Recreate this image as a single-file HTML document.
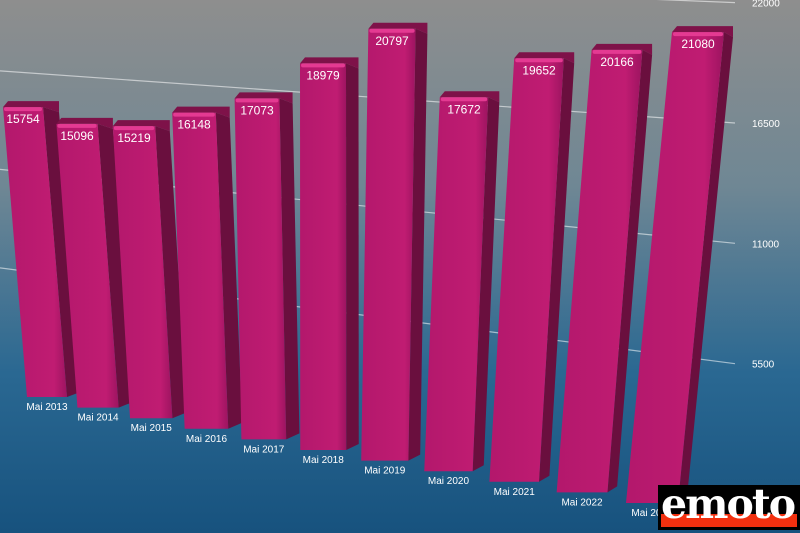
<!DOCTYPE html>
<html><head><meta charset="utf-8">
<style>
html,body{margin:0;padding:0;}
body{width:800px;height:533px;overflow:hidden;font-family:"Liberation Sans",sans-serif;}
#chart{position:absolute;left:0;top:0;}
#logo{position:absolute;left:658px;top:485px;width:142px;height:45px;background:#000;overflow:hidden;}
#logo .txt{position:absolute;left:3px;top:-5px;font-family:"DejaVu Serif",serif;font-weight:bold;font-size:41px;color:#fff;letter-spacing:-2px;}
#logo .red{position:absolute;left:3px;right:3px;bottom:3px;height:13px;background:#f2300f;}
</style></head>
<body>
<svg id="chart" width="800" height="533" xmlns="http://www.w3.org/2000/svg">
<defs>
<linearGradient id="bg" x1="0" y1="0" x2="0" y2="1">
<stop offset="0" stop-color="#8e8e8e"/>
<stop offset="0.35" stop-color="#6f8794"/>
<stop offset="0.7" stop-color="#2a6892"/>
<stop offset="1" stop-color="#17527e"/>
</linearGradient>
<linearGradient id="front" x1="0" y1="0" x2="1" y2="0">
<stop offset="0" stop-color="#b3186c"/>
<stop offset="0.8" stop-color="#c01c72"/>
<stop offset="1" stop-color="#9c1460"/>
</linearGradient>
</defs>
<rect width="800" height="533" fill="url(#bg)"/>
<g id="grid"></g>
<g id="bars"></g>
</svg>
<div id="logo"><div class="red"></div><div class="txt">emoto</div></div>
<script>
const categories=["Mai 2013","Mai 2014","Mai 2015","Mai 2016","Mai 2017","Mai 2018","Mai 2019","Mai 2020","Mai 2021","Mai 2022","Mai 2023"];
const values=[15754,15096,15219,16148,17073,18979,20797,17672,19652,20166,21080];
const ticks=[5500,11000,16500,22000];
const NS="http://www.w3.org/2000/svg";
function mk(t,a,p){const e=document.createElementNS(NS,t);for(const k in a)e.setAttribute(k,a[k]);p.appendChild(e);return e;}
function yAxis(v){return 484-v*0.02188;}
function gridSlope(v){return 0.16-0.0054*v/1000;}
const grid=document.getElementById('grid');
ticks.forEach(t=>{
  const yr=yAxis(t), xe=735;
  const l=mk('line',{x1:0,y1:yr-gridSlope(t)*xe,x2:xe,y2:yr,stroke:'rgba(255,255,255,0.55)','stroke-width':1.2},grid);
  
  
  const tx=mk('text',{x:752,y:yr+4,fill:'#fff','font-size':10},grid);
  tx.textContent=t;
  
  
});
const bars=document.getElementById('bars');
function bottomY(i){return 397+10.6*i;}
function scaleAt(i){return 0.0184+0.000394*i;}
function centerX(i){return 47+50*i+1.05*i*i;}
values.forEach((v,i)=>{
  const g=mk('g',{},bars);
  
  
  const yb=bottomY(i), yt=yb-v*scaleAt(i);
  const w=40+1.2*i, sd=16-0.7*i;
  const lean=-24+2.5*i+0.45*i*i;
  const bl=centerX(i)-w/2, tl=bl+lean;
  mk('polygon',{points:`${tl+w},${yt} ${tl+w+sd},${yt+5} ${bl+w+sd},${yb-6} ${bl+w},${yb}`,fill:'#6a0f3e'},g);
  mk('polygon',{points:`${tl},${yt} ${tl+w},${yt} ${bl+w},${yb} ${bl},${yb}`,fill:'url(#front)'},g);
  mk('polygon',{points:`${tl},${yt} ${tl+5},${yt-6} ${tl+w+sd},${yt-6} ${tl+w+sd},${yt+5} ${tl+w},${yt}`,fill:'#7e1249'},g);
  mk('rect',{x:tl+1,y:yt,width:w-2,height:4,fill:'#e43a92',rx:2},g);
  const vt=mk('text',{x:tl+w/2,y:yt+16,fill:'#fff','font-size':12,'text-anchor':'middle'},g);
  vt.textContent=v;
  
  
  const ct=mk('text',{x:bl+w/2,y:yb+13,fill:'#fff','font-size':10,'text-anchor':'middle'},g);
  ct.textContent=categories[i];
  
  
});
</script>
</body></html>
